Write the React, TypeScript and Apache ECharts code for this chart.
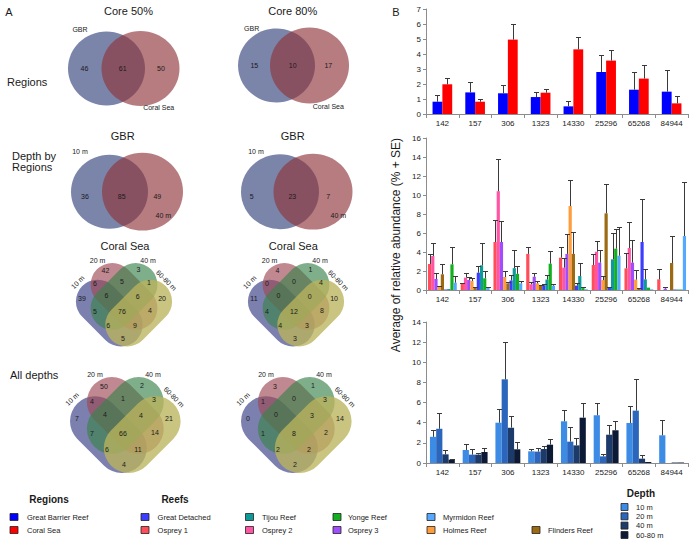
import React, { useEffect, useRef } from "react";
import * as echarts from "echarts";

const FONT = '"Liberation Sans", Arial, Helvetica, sans-serif';

// ---------- Panel B data ----------
const otuIds = ["142", "157", "306", "1323", "14330", "25296", "65268", "84944"];

const regionNames = ["Great Barrier Reef", "Coral Sea"];
const regionColors = ["#0000ff", "#ff0000"];
const gbrMean = [0.82, 1.44, 1.38, 1.13, 0.51, 2.8, 1.62, 1.49];
const gbrSE = [0.45, 0.69, 0.55, 0.36, 0.36, 1.13, 1.18, 1.44];
const coralSeaMean = [1.98, 0.82, 4.96, 1.42, 4.31, 3.56, 2.36, 0.71];
const coralSeaSE = [0.44, 0.18, 1.06, 0.22, 0.8, 0.68, 0.88, 0.49];

const reefNames = ["Osprey 1", "Osprey 2", "Osprey 3", "Holmes Reef", "Flinders Reef", "Great Detached", "Tijou Reef", "Yonge Reef", "Myrmidon Reef"];
const reefColors = ["#ff4d5a", "#ff55a3", "#a04dff", "#ff9c3c", "#9c6a12", "#3d3dff", "#0f9a9a", "#12b020", "#55aaff"];
const osprey1Mean = [2.74, 0.65, 5.05, 3.8, 3.4, 2.63, 2.28, 1.12];
const osprey1SE = [1.01, 0.1, 2.32, 0.76, 1.1, 1.12, 1.65, 1.08];
const osprey2Mean = [3.58, 1.3, 10.4, 0.6, 2.35, 4.03, 4.42, 0];
const osprey2SE = [1.4, 0.45, 3.35, 0.2, 1.05, 1.13, 2.74, 0];
const osprey3Mean = [1.16, 1.05, 5.05, 1.4, 3.8, 2.88, 2.88, 0.14];
const osprey3SE = [0.59, 0.35, 2.25, 0.35, 2.06, 1.32, 2.38, 0.16];
const holmesMean = [0.35, 0.95, 1.37, 0.7, 8.84, 1.05, 1.09, 0];
const holmesSE = [0.07, 0.35, 0.59, 0.2, 2.7, 0.39, 1.01, 0];
const flindersMean = [1.65, 0.28, 0.7, 0.5, 3.8, 8.07, 0.18, 2.84];
const flindersSE = [1.12, 0.02, 0.1, 0.05, 2.3, 3.05, 0.02, 2.81];
const greatDetachedMean = [0.05, 1.82, 1.0, 0.5, 0.46, 0.28, 5.05, 0.05];
const greatDetachedSE = [0, 0.68, 0.55, 0.1, 0.24, 0.02, 4.53, 0];
const tijouMean = [0.1, 2.6, 2.3, 1.1, 1.47, 3.23, 1.12, 0.05];
const tijouSE = [0, 2.4, 1.9, 0.5, 1.41, 2.73, 1.06, 0];
const yongeMean = [2.7, 1.23, 1.7, 2.77, 0.2, 4.35, 0.25, 0.05];
const yongeSE = [1.79, 0.73, 0.85, 1.33, 0.1, 2.04, 0, 0];
const myrmidonMean = [0.77, 0.28, 0.7, 0.45, 0.07, 3.61, 0.07, 5.68];
const myrmidonSE = [0.67, 0.02, 0.3, 0.15, 0, 3.02, 0, 5.65];

const depthNames = ["10 m", "20 m", "40 m", "60-80 m"];
const depthColors = ["#3c8ce6", "#2c66bc", "#1c3a6a", "#0c1a36"];
const d10Mean = [2.6, 1.29, 4.0, 1.16, 4.14, 4.74, 3.97, 2.75];
const d10SE = [0.7, 0.6, 1.4, 0.26, 1.16, 1.26, 1.66, 1.55];
const d20Mean = [3.4, 0.83, 8.31, 1.13, 2.12, 0.66, 5.2, 0];
const d20SE = [1.53, 0.53, 3.74, 0.39, 1.46, 0.2, 3.18, 0];
const d40Mean = [0.86, 0.83, 3.51, 1.39, 1.75, 2.81, 0.43, 0.05];
const d40SE = [0.4, 0.2, 1.16, 0.3, 0.77, 0.96, 0.33, 0];
const d6080Mean = [0.33, 1.09, 1.36, 1.82, 4.5, 3.25, 0.1, 0.05];
const d6080SE = [0.1, 0.4, 0.76, 0.6, 1.5, 0.95, 0, 0];

const yMaxes = [7, 16, 14];
const yIntervals = [1, 2, 2];
const yAxisTitle = "Average of relative abundance (% + SE)";

// ---------- Panel A data ----------
const core50Counts = [46, 61, 50];
const core80Counts = [15, 10, 17];
const gbrDepth50Counts = [36, 85, 49];
const gbrDepth80Counts = [5, 23, 7];
const regionSetLabels = ["GBR", "Coral Sea"];
const gbrDepthSetLabels = ["10 m", "40 m"];
const depthSetLabels = ["10 m", "20 m", "40 m", "60-80 m"];
// region order: A, B, C, D, AB, BC, CD, ABC, BCD, AC, ABCD, BD, ACD, ABD, AD
const coralSea50Counts = [39, 42, 3, 20, 6, 5, 1, 6, 6, 5, 76, 4, 6, 9, 5];
const coralSea80Counts = [11, 4, 1, 10, 0, 0, 4, 0, 0, 4, 12, 8, 4, 3, 3];
const allDepths50Counts = [7, 50, 2, 21, 4, 1, 3, 4, 4, 7, 66, 14, 6, 11, 4];
const allDepths80Counts = [0, 3, 1, 14, 1, 0, 3, 0, 3, 1, 8, 2, 2, 2, 2];

// ---------- helpers ----------
function txt(x: number, y: number, text: string, size: number, o: any = {}) {
  const align = o.align || "center";
  return {
    type: "text",
    x,
    y,
    rotation: o.rotation || 0,
    z: 20,
    style: {
      text,
      font: `${o.bold ? "bold " : ""}${size}px ${FONT}`,
      fill: o.color || "#1a1a1a",
      align,
      textAlign: align,
      verticalAlign: "middle",
      textVerticalAlign: "middle",
    },
  };
}

const V2_LEFT = "#34427b";
const V2_RIGHT = "#8f363c";
const V4_COLORS = ["#343c83", "#9e4855", "#3a834b", "#bab45c"];
const V4_OPACITY = [0.65, 0.65, 0.65, 0.78];
const VENN_OPACITY = 0.65;

function venn2(spec: any) {
  const els: any[] = [];
  const [lx, ly, lr] = spec.l;
  const [rx, ry, rr] = spec.r;
  els.push({ type: "ellipse", z: 5, shape: { cx: lx, cy: ly, rx: lr, ry: lr * 0.96 }, style: { fill: V2_LEFT, opacity: VENN_OPACITY } });
  els.push({ type: "ellipse", z: 6, shape: { cx: rx, cy: ry, rx: rr, ry: rr * 0.96 }, style: { fill: V2_RIGHT, opacity: VENN_OPACITY } });
  spec.counts.forEach((c: number, i: number) => els.push(txt(spec.nx[i], spec.ny, String(c), 7)));
  els.push(txt(spec.lab1[0], spec.lab1[1], spec.labels[0], 7));
  els.push(txt(spec.lab2[0], spec.lab2[1], spec.labels[1], 7));
  return els;
}

const venn4Offsets = [
  [-48.3, 2.6], [-21.3, -29.4], [16.7, -30.4], [43.7, 2.6], [-33.3, -14.4], [-2.3, -17.4], [28.7, -16.4],
  [-20.3, -1.4], [15.7, -0.4], [-33.3, 17.6], [-2.3, 17.6], [29.7, 16.6], [-18.3, 33.6], [12.7, 33.6], [-1.3, 48.6],
];

function venn4(cx: number, cy: number, s: number, counts: number[]) {
  const els: any[] = [];
  const h = 13.4 * s; // projected half-length of the straight part
  const r = 25 * s; // end-cap radius
  const L = 2 * (h * Math.SQRT2 + r);
  const H = 2 * r;
  const dx = 16.9 * s;
  const dy = 19.2 * s;
  const centers = [
    [cx - dx, cy + dy, -Math.PI / 4],
    [cx, cy, -Math.PI / 4],
    [cx, cy, Math.PI / 4],
    [cx + dx, cy + dy, Math.PI / 4],
  ];
  centers.forEach((c, i) => {
    els.push({
      type: "rect",
      x: c[0],
      y: c[1],
      rotation: c[2],
      z: 5 + i,
      shape: { x: -L / 2, y: -H / 2, width: L, height: H, r: H / 2 },
      style: { fill: V4_COLORS[i], opacity: V4_OPACITY[i] },
    });
  });
  counts.forEach((c, i) => {
    els.push(txt(cx + venn4Offsets[i][0] * s, cy + venn4Offsets[i][1] * s, String(c), 7));
  });
  els.push(txt(cx - 53.3 * s, cy - 16.4 * s, depthSetLabels[0], 7, { rotation: Math.PI / 4 }));
  els.push(txt(cx - 30.3 * s, cy - 41.4 * s, depthSetLabels[1], 7));
  els.push(txt(cx + 27.7 * s, cy - 41.4 * s, depthSetLabels[2], 7));
  els.push(txt(cx + 48.7 * s, cy - 18.4 * s, depthSetLabels[3], 7, { rotation: -Math.PI / 4 }));
  return els;
}

function buildOption() {
  const grids = [
    { left: 426, top: 9, width: 262, height: 105 },
    { left: 426, top: 138, width: 262, height: 152 },
    { left: 426, top: 322, width: 262, height: 141 },
  ];
  const gaps = [0.4, 0.12, 0.24];
  const groups = [
    { names: regionNames, colors: regionColors, means: [gbrMean, coralSeaMean], ses: [gbrSE, coralSeaSE] },
    {
      names: reefNames,
      colors: reefColors,
      means: [osprey1Mean, osprey2Mean, osprey3Mean, holmesMean, flindersMean, greatDetachedMean, tijouMean, yongeMean, myrmidonMean],
      ses: [osprey1SE, osprey2SE, osprey3SE, holmesSE, flindersSE, greatDetachedSE, tijouSE, yongeSE, myrmidonSE],
    },
    { names: depthNames, colors: depthColors, means: [d10Mean, d20Mean, d40Mean, d6080Mean], ses: [d10SE, d20SE, d40SE, d6080SE] },
  ];

  const xAxis = grids.map((_, g) => ({
    type: "category",
    gridIndex: g,
    data: otuIds,
    axisLine: { show: true, lineStyle: { color: "#8c8c8c", width: 1 } },
    axisTick: { show: true, length: 4, lineStyle: { color: "#8c8c8c" } },
    axisLabel: { interval: 0, fontSize: 8, color: "#1a1a1a", margin: 5, fontFamily: FONT },
    splitLine: { show: false },
  }));
  const yAxis = grids.map((_, g) => ({
    type: "value",
    gridIndex: g,
    min: 0,
    max: yMaxes[g],
    interval: yIntervals[g],
    axisLine: { show: true, lineStyle: { color: "#8c8c8c", width: 1 } },
    axisTick: { show: true, length: 3, lineStyle: { color: "#8c8c8c" } },
    axisLabel: { fontSize: 8, color: "#1a1a1a", margin: 5, fontFamily: FONT },
    splitLine: { show: false },
  }));

  const series: any[] = [];
  groups.forEach((grp, g) => {
    const n = grp.names.length;
    grp.means.forEach((m, i) => {
      series.push({
        type: "bar",
        name: grp.names[i],
        xAxisIndex: g,
        yAxisIndex: g,
        data: m,
        barGap: "0%",
        barCategoryGap: `${gaps[g] * 100}%`,
        itemStyle: { color: grp.colors[i] },
        z: 2,
      });
    });
    grp.means.forEach((m, i) => {
      const se = grp.ses[i];
      series.push({
        type: "custom",
        xAxisIndex: g,
        yAxisIndex: g,
        z: 4,
        data: m.map((v, k) => [k, v, v + se[k]]),
        encode: { x: 0, y: [1, 2] },
        renderItem: (params: any, api: any) => {
          const ci = api.value(0);
          const lo = api.value(1);
          const hi = api.value(2);
          if (!(hi - lo > 0)) return { type: "group", children: [] };
          const p0 = api.coord([ci, lo]);
          const p1 = api.coord([ci, hi]);
          const band = api.size([1, 0])[0];
          const gw = band * (1 - gaps[g]);
          const bw = gw / n;
          const x = Math.round(p0[0] - gw / 2 + bw * (i + 0.5)) + 0.5;
          const yTop = Math.round(p1[1]) + 0.5;
          const st = { stroke: "#3a3a3a", lineWidth: 1 };
          return {
            type: "group",
            children: [
              { type: "line", shape: { x1: x, y1: p0[1], x2: x, y2: yTop }, style: st },
              { type: "line", shape: { x1: x - 2.5, y1: yTop, x2: x + 2.5, y2: yTop }, style: st },
            ],
          };
        },
      });
    });
  });

  // ---------- graphic elements ----------
  const els: any[] = [];
  els.push(txt(9, 12, "A", 11, { align: "center" }));
  els.push(txt(396, 12, "B", 11, { align: "center" }));
  els.push(txt(128.5, 11, "Core 50%", 11));
  els.push(txt(292.7, 11, "Core 80%", 11));
  els.push(txt(7, 82, "Regions", 11, { align: "left" }));
  els.push(txt(122.7, 136, "GBR", 11));
  els.push(txt(292.7, 136, "GBR", 11));
  els.push(txt(12, 156, "Depth by", 11, { align: "left" }));
  els.push(txt(12, 167, "Regions", 11, { align: "left" }));
  els.push(txt(125, 246, "Coral Sea", 11));
  els.push(txt(293.3, 246, "Coral Sea", 11));
  els.push(txt(10, 375, "All depths", 11, { align: "left" }));

  const venn2Specs = [
    { counts: core50Counts, labels: regionSetLabels, l: [106.5, 68.5, 38.5], r: [140.5, 68.5, 39], ny: 68.5, nx: [84.5, 122.7, 161], lab1: [80, 29.5], lab2: [158.7, 107.7] },
    { counts: core80Counts, labels: regionSetLabels, l: [276.5, 65.5, 38.5], r: [309.5, 65.5, 39.5], ny: 65.3, nx: [254.3, 292.7, 328.3], lab1: [251.7, 28.3], lab2: [328.3, 106] },
    { counts: gbrDepth50Counts, labels: gbrDepthSetLabels, l: [109.5, 191.7, 38.5], r: [142.5, 191.7, 40.5], ny: 196, nx: [85, 121.7, 157.3], lab1: [80, 151.7], lab2: [163.3, 215] },
    { counts: gbrDepth80Counts, labels: gbrDepthSetLabels, l: [280, 191.7, 39], r: [313, 191.7, 39.5], ny: 196, nx: [251.7, 292.3, 328.3], lab1: [256, 151.7], lab2: [338.3, 215] },
  ];
  venn2Specs.forEach((s) => els.push(...venn2(s)));

  els.push(...venn4(124, 296.4, 0.87, coralSea50Counts));
  els.push(...venn4(296, 296.4, 0.87, coralSea80Counts));
  els.push(...venn4(125.3, 415.4, 1, allDepths50Counts));
  els.push(...venn4(296.3, 415.4, 1, allDepths80Counts));

  // y-axis title
  els.push(txt(396, 245, yAxisTitle, 12, { rotation: Math.PI / 2 }));

  // legends
  const swatch = (x: number, y: number, w: number, h: number, color: string) => ({
    type: "rect",
    z: 20,
    shape: { x, y: y - h / 2, width: w, height: h },
    style: { fill: color, stroke: "#222", lineWidth: 0.8 },
  });
  const legendRows = [517, 530];
  els.push(txt(49, 499, "Regions", 10, { bold: true }));
  regionNames.forEach((nm, i) => {
    els.push(swatch(10, legendRows[i], 8, 7, regionColors[i]));
    els.push(txt(27, legendRows[i], nm, 7.5, { align: "left" }));
  });
  els.push(txt(175, 499, "Reefs", 10, { bold: true }));
  const reefColSquare = [141, 245.5, 333, 427, 532];
  const reefColText = [157.6, 262, 348, 443, 548];
  const reefLegendSlot = [[1, 0], [1, 1], [1, 2], [1, 3], [1, 4], [0, 0], [0, 1], [0, 2], [0, 3]];
  reefNames.forEach((nm, i) => {
    const [r, c] = reefLegendSlot[i];
    els.push(swatch(reefColSquare[c], legendRows[r], 8, 7, reefColors[i]));
    els.push(txt(reefColText[c], legendRows[r], nm, 7.5, { align: "left" }));
  });
  els.push(txt(641, 493, "Depth", 10, { bold: true }));
  const depthRows = [507, 516.3, 525.6, 535];
  depthNames.forEach((nm, i) => {
    els.push(swatch(621, depthRows[i], 7, 7, depthColors[i]));
    els.push(txt(636, depthRows[i], nm, 7.5, { align: "left" }));
  });

  return {
    animation: false,
    backgroundColor: "#ffffff",
    textStyle: { fontFamily: FONT },
    grid: grids.map((g) => ({ ...g, containLabel: false })),
    xAxis,
    yAxis,
    series,
    graphic: { elements: els },
  };
}

export default function App() {
  const ref = useRef<HTMLDivElement>(null);
  useEffect(() => {
    document.body.style.margin = "0";
    const chart = echarts.init(ref.current as HTMLDivElement, undefined, { renderer: "svg" });
    chart.setOption(buildOption() as any);
    return () => chart.dispose();
  }, []);
  return <div ref={ref} style={{ width: 696, height: 545, background: "#fff" }} />;
}
